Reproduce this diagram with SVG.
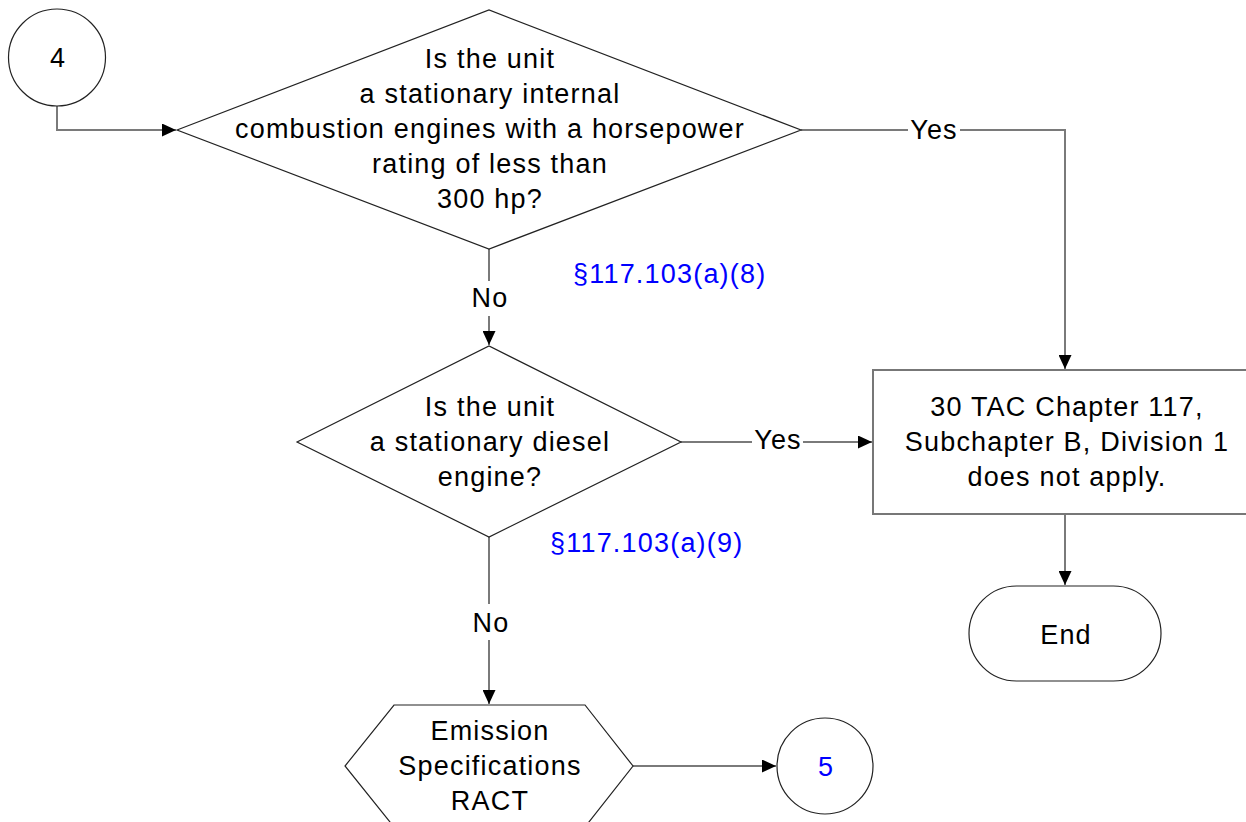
<svg xmlns="http://www.w3.org/2000/svg" width="1246" height="822" viewBox="0 0 1246 822">
<style>
text{font-family:"Liberation Sans",Arial,sans-serif;font-size:27px;letter-spacing:1.2px;fill:#000;text-anchor:middle}
.ref{fill:#0000ff;text-anchor:start}
.blue{fill:#0000ff}
.shape{fill:#fff;stroke:#222;stroke-width:1.2}
.box{fill:#fff;stroke:#777;stroke-width:2}
.conn{fill:none;stroke:#7a7a7a;stroke-width:2}
.bg{fill:#fff;stroke:none}
</style>
<defs>
<marker id="arr" markerUnits="userSpaceOnUse" markerWidth="14" markerHeight="13" refX="14" refY="6.5" orient="auto">
<path d="M0,0 L14,6.5 L0,13 Z" fill="#000"/>
</marker>
</defs>
<rect width="1246" height="822" fill="#fff"/>
<g id="connectors">
<path class="conn" d="M57 106 V130 H176" marker-end="url(#arr)"/>
<path class="conn" d="M801 130 H1065 V369" marker-end="url(#arr)"/>
<rect class="bg" x="908" y="112" width="52" height="32"/>
<text x="934" y="139">Yes</text>
<path class="conn" d="M489 249 V345" marker-end="url(#arr)"/>
<rect class="bg" x="470" y="281" width="40" height="35"/>
<text x="490" y="307">No</text>
<path class="conn" d="M681 442 H872" marker-end="url(#arr)"/>
<rect class="bg" x="752" y="424" width="51" height="30"/>
<text x="778" y="449">Yes</text>
<path class="conn" d="M489 537 V704" marker-end="url(#arr)"/>
<rect class="bg" x="470" y="604" width="40" height="36"/>
<text x="491" y="632">No</text>
<path class="conn" d="M1065 514 V585" marker-end="url(#arr)"/>
<path class="conn" d="M633 766 H776" marker-end="url(#arr)"/>
<text class="ref" x="573" y="283">§117.103(a)(8)</text>
<text class="ref" x="550" y="552">§117.103(a)(9)</text>
</g>
<g id="node-4">
<circle class="shape" cx="57" cy="57.5" r="48.5"/>
<text x="58" y="67">4</text>
</g>
<g id="decision-ice">
<polygon class="shape" points="177,130 489,10 801,130 489,249"/>
<text x="490" y="68">Is the unit</text>
<text x="490" y="103">a stationary internal</text>
<text x="490" y="138">combustion engines with a horsepower</text>
<text x="490" y="173">rating of less than</text>
<text x="490" y="208">300 hp?</text>
</g>
<g id="decision-diesel">
<polygon class="shape" points="297,442 489,346 681,442 489,537"/>
<text x="490" y="416">Is the unit</text>
<text x="490" y="451">a stationary diesel</text>
<text x="490" y="486">engine?</text>
</g>
<g id="not-apply">
<rect class="box" x="873" y="370" width="390" height="144"/>
<text x="1067" y="416">30 TAC Chapter 117,</text>
<text x="1067" y="451">Subchapter B, Division 1</text>
<text x="1067" y="486">does not apply.</text>
</g>
<g id="end">
<path class="shape" d="M1016.5 586 H1113.5 A47.5 47.5 0 0 1 1113.5 681 H1016.5 A47.5 47.5 0 0 1 1016.5 586 Z"/>
<text x="1066" y="644">End</text>
</g>
<g id="emission-ract">
<polygon class="shape" points="394,705 585,705 633,766 585,827 394,827 345,766"/>
<text x="490" y="740">Emission</text>
<text x="490" y="775">Specifications</text>
<text x="490" y="810">RACT</text>
</g>
<g id="node-5">
<circle class="shape" cx="825" cy="766" r="48"/>
<text class="blue" x="826" y="776">5</text>
</g>
</svg>
